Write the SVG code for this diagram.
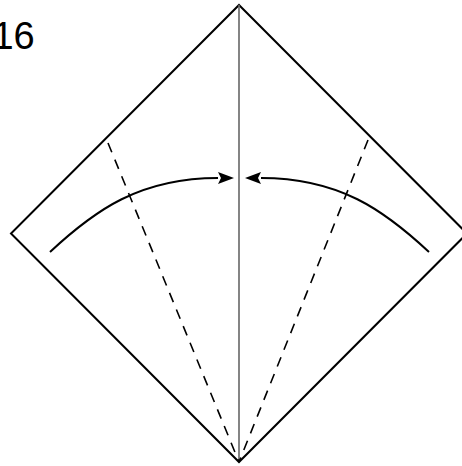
<svg xmlns="http://www.w3.org/2000/svg" width="462" height="466" viewBox="0 0 462 466">
<style>
.edge{fill:none;stroke:#000;stroke-width:2;stroke-linejoin:miter}
.valley{fill:none;stroke:#000;stroke-width:1.6;stroke-dasharray:10 8}
.center{fill:none;stroke:#666;stroke-width:1.6}
.arc{fill:none;stroke:#000;stroke-width:2}
.label{font-family:"Liberation Sans",Arial,sans-serif;font-size:38px;fill:#000}
</style>
<defs>
<marker id="ah" markerUnits="userSpaceOnUse" markerWidth="20" markerHeight="16" refX="0" refY="6" orient="auto">
<path d="M0,0 L16,6 L0,12 L3,6 Z" fill="#000"/>
</marker>
</defs>
<rect width="462" height="466" fill="#fff"/>
<text class="label" x="-7.6" y="49">16</text>
<g id="paper">
<path class="edge" d="M239,5 L467,233.5 L239,462 L11,233.5 Z"/>
</g>
<g id="folds">
<path class="center" d="M239,5 L239,462"/>
<path class="valley" d="M108,143 L239,462"/>
<path class="valley" d="M368,140 L239,462"/>
</g>
<g id="connectors">
<path class="arc" d="M50,252 C95,210 140,178 218,178" marker-end="url(#ah)"/>
<path class="arc" d="M429,252 C384,210 339,178 261,178" marker-end="url(#ah)"/>
</g>
</svg>
